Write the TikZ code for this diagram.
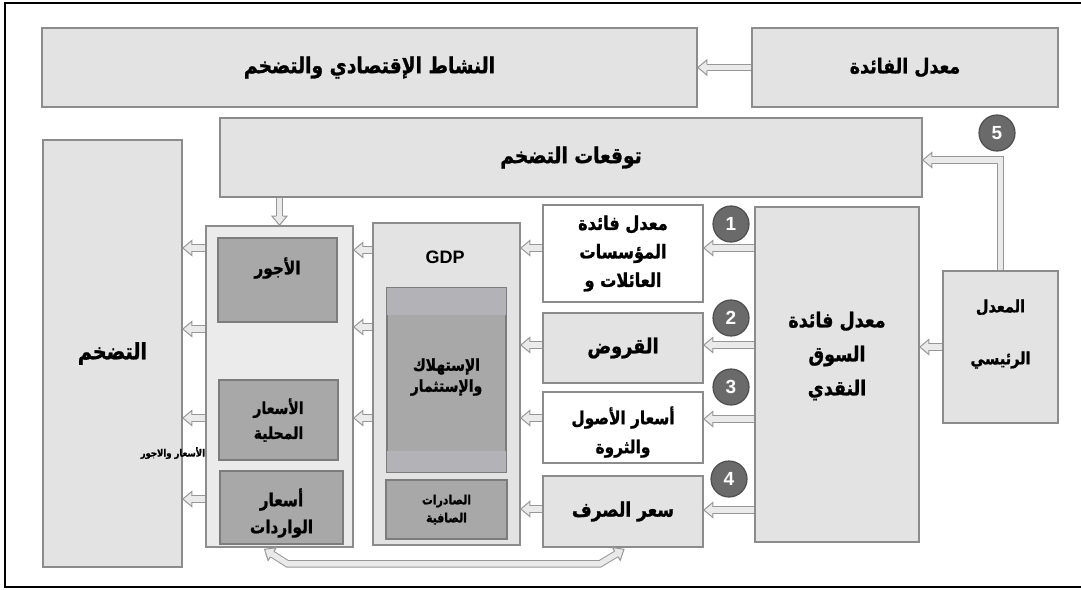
\documentclass[tikz,border=0pt]{standalone}
\usepackage{fontspec}
\usetikzlibrary{calc}
\TeXXeTstate=1
\newfontfamily\arabicfont[Script=Arabic, FakeStretch=0.85, BoldFeatures={FakeBold=1.2}]{DejaVu Sans}
\newfontfamily\latinbold{Liberation Sans}
\newcommand\AR[1]{{\arabicfont\bfseries\beginR #1\endR}}

\definecolor{boxfill}{HTML}{E3E3E3}
\definecolor{boxline}{HTML}{8C8C8C}
\definecolor{innerfill}{HTML}{A8A8A8}
\definecolor{innerlight}{HTML}{B3B3B7}
\definecolor{innerline}{HTML}{7C7C7C}
\definecolor{arrline}{HTML}{979797}
\definecolor{arrfill}{HTML}{EAEAEA}
\definecolor{circfill}{HTML}{6A6A6A}
\definecolor{circline}{HTML}{4E4E4E}

\tikzset{
 box/.style={draw=boxline, fill=boxfill, line width=1.6pt, inner sep=0pt, align=center, font=\fontsize{22}{28}\selectfont},
 whitebox/.style={box, fill=white},
 innerbox/.style={draw=innerline, fill=innerfill, line width=1.4pt, inner sep=0pt},
 shaft/.style={draw=arrline, line width=1pt, double=arrfill, double distance=5.4pt},
 headst/.style={draw=arrline, fill=arrfill, line width=1pt, line join=miter},
 numcirc/.style={circle, draw=circline, fill=circfill, line width=1.2pt, minimum size=36pt, inner sep=0pt, text=white, font=\latinbold\bfseries\fontsize{19}{19}\selectfont},
 lbl/.style={inner sep=0pt, align=center, font=\fontsize{18}{28}\selectfont},
}

\newcommand\ahead[2]{%
  \coordinate (tl) at (#1); \coordinate (tp) at (#2);
  \filldraw[headst] ($(tp)!9pt!(tl)!3.2pt!90:(tl)$) -- ($(tp)!9pt!(tl)!7.5pt!90:(tl)$) -- (tp)
     -- ($(tp)!9pt!(tl)!7.5pt!-90:(tl)$) -- ($(tp)!9pt!(tl)!3.2pt!-90:(tl)$);}
\newcommand\harr[2]{%
  \coordinate (tl) at (#1); \coordinate (tp) at (#2);
  \draw[shaft] (tl) -- ($(tp)!9pt!(tl)$);
  \ahead{#1}{#2}}

\begin{document}
\begin{tikzpicture}[x=1pt,y=-1pt]
\useasboundingbox (0,0) rectangle (1081,589);
\draw[line width=2.5pt] (5,3) rectangle (1095,587);

% top row
\node[box, minimum width=655pt, minimum height=79pt] (act) at (369.5,67.5) {\AR{النشاط الإقتصادي والتضخم}};
\node[box, minimum width=306pt, minimum height=79pt, font=\fontsize{20.5}{28}\selectfont] (rate) at (905,67.5) {\AR{معدل الفائدة}};
\node[box, minimum width=702pt, minimum height=79pt] (T) at (571,157.5) {\AR{توقعات التضخم}};

% inflation
\node[box, minimum width=139pt, minimum height=427pt, font=\fontsize{22.5}{28}\selectfont] (inf) at (112.5,353.5) {\AR{التضخم}};

% prices and wages container
\node[box, fill=boxfill!70!white, minimum width=147pt, minimum height=321pt] (P) at (279.5,386.5) {};
\node[innerbox, minimum width=119pt, minimum height=84pt] (wag) at (277.5,280) {};
\node[lbl] at (277.5,268) {\AR{الأجور}};
\node[innerbox, minimum width=119pt, minimum height=80pt, align=center, font=\fontsize{16.5}{25}\selectfont] (dom) at (278.5,420) {\AR{الأسعار}\\\AR{المحلية}};
\node[innerbox, minimum width=123pt, minimum height=73pt] (imp) at (281.5,507.5) {};
\node[lbl, font=\fontsize{18}{27}\selectfont] at (281.5,513) {\AR{أسعار}\\\AR{الواردات}};
\node[lbl, anchor=east, font=\fontsize{10}{10}\selectfont] at (P.west|-0,453) {\AR{الأسعار والاجور}};

% GDP container
\node[box, minimum width=147pt, minimum height=322pt] (G) at (446.5,384) {};
\node[lbl, font=\latinbold\bfseries\fontsize{18}{18}\selectfont] at (445,257) {GDP};
\node[innerbox, minimum width=119pt, minimum height=184pt] (cons) at (446.5,380) {};
\fill[innerlight] ($(cons.north west)+(0.7,0.7)$) rectangle ($(cons.north east)+(-0.7,28)$);
\fill[innerlight] ($(cons.south west)+(0.7,-22)$) rectangle ($(cons.south east)+(-0.7,-0.7)$);
\node[lbl, font=\fontsize{16.4}{21}\selectfont] at (446.5,377) {\AR{الإستهلاك}\\\AR{والإستثمار}};
\node[innerbox, minimum width=121pt, minimum height=59pt, align=center, font=\fontsize{12.8}{18}\selectfont] (nx) at (446.5,509.5) {\AR{الصادرات}\\\AR{الصافية}};

% channels column
\node[whitebox, minimum width=160pt, minimum height=97pt, font=\fontsize{19}{28.5}\selectfont] (C1) at (623,253.5) {\AR{معدل فائدة}\\\AR{المؤسسات}\\\AR{العائلات و}};
\node[box, minimum width=160pt, minimum height=70pt, font=\fontsize{20.8}{28}\selectfont] (C2) at (623,348) {\AR{القروض}};
\node[whitebox, minimum width=160pt, minimum height=71pt] (C3) at (623,427.5) {};
\node[lbl, font=\fontsize{18}{29}\selectfont] at (623,432) {\AR{أسعار الأصول}\\\AR{والثروة}};
\node[box, minimum width=160pt, minimum height=71pt, font=\fontsize{20}{28}\selectfont] (C4) at (623,511.5) {\AR{سعر الصرف}};

% money market rate and policy rate
\node[box, minimum width=164pt, minimum height=335pt] (M) at (837,374.5) {};
\node[lbl, font=\fontsize{20.6}{34}\selectfont] at (837,356) {\AR{معدل فائدة}\\\AR{السوق}\\\AR{النقدي}};
\node[box, minimum width=115pt, minimum height=152pt] (cb) at (1000.5,347) {};
\node[lbl, font=\fontsize{17}{52}\selectfont] at (1000.5,334) {\AR{المعدل}\\\AR{الرئيسي}};

% numbered circles
\node[numcirc] (n1) at (731,224) {1};
\node[numcirc] (n2) at (731,318) {2};
\node[numcirc] (n3) at (731,387) {3};
\node[numcirc] (n4) at (729,479) {4};
\node[numcirc] (n5) at (997,133) {5};

% arrows
\harr{rate.west}{act.east}
\harr{T.south-|P.north}{P.north}
\harr{cb.west}{M.east|-cb.west}
\coordinate (k5) at (cb.north|-0,160);
\draw[shaft] (cb.north) -- (k5) -- ($(T.east|-k5)+(9,0)$);
\ahead{k5}{T.east|-k5}

\harr{M.west|-0,248}{C1.east|-0,248}
\harr{M.west|-0,345}{C2.east|-0,345}
\harr{M.west|-0,419}{C3.east|-0,419}
\harr{M.west|-0,510}{C4.east|-0,510}

\harr{C1.west|-0,248}{G.east|-0,248}
\harr{C2.west|-0,345}{G.east|-0,345}
\harr{C3.west|-0,418}{G.east|-0,418}
\harr{C4.west|-0,509}{G.east|-0,509}

\harr{G.west|-0,250}{P.east|-0,250}
\harr{G.west|-0,327}{P.east|-0,327}
\harr{G.west|-0,418}{P.east|-0,418}

\harr{P.west|-0,248}{inf.east|-0,248}
\harr{P.west|-0,329}{inf.east|-0,329}
\harr{P.west|-0,418}{inf.east|-0,418}
\harr{P.west|-0,499}{inf.east|-0,499}

% bottom two-way connector
\coordinate (bl) at ($(P.south)+(8,16)$);
\coordinate (br) at ($(C4.south)+(-23,16)$);
\coordinate (tipL) at ($(P.south)+(-15,1.5)$);
\coordinate (tipR) at ($(C4.south)+(1,1.5)$);
\draw[shaft] ($(tipL)!9pt!(bl)$) -- (bl) -- (br) -- ($(tipR)!9pt!(br)$);
\ahead{bl}{tipL}
\ahead{br}{tipR}
\end{tikzpicture}
\end{document}
